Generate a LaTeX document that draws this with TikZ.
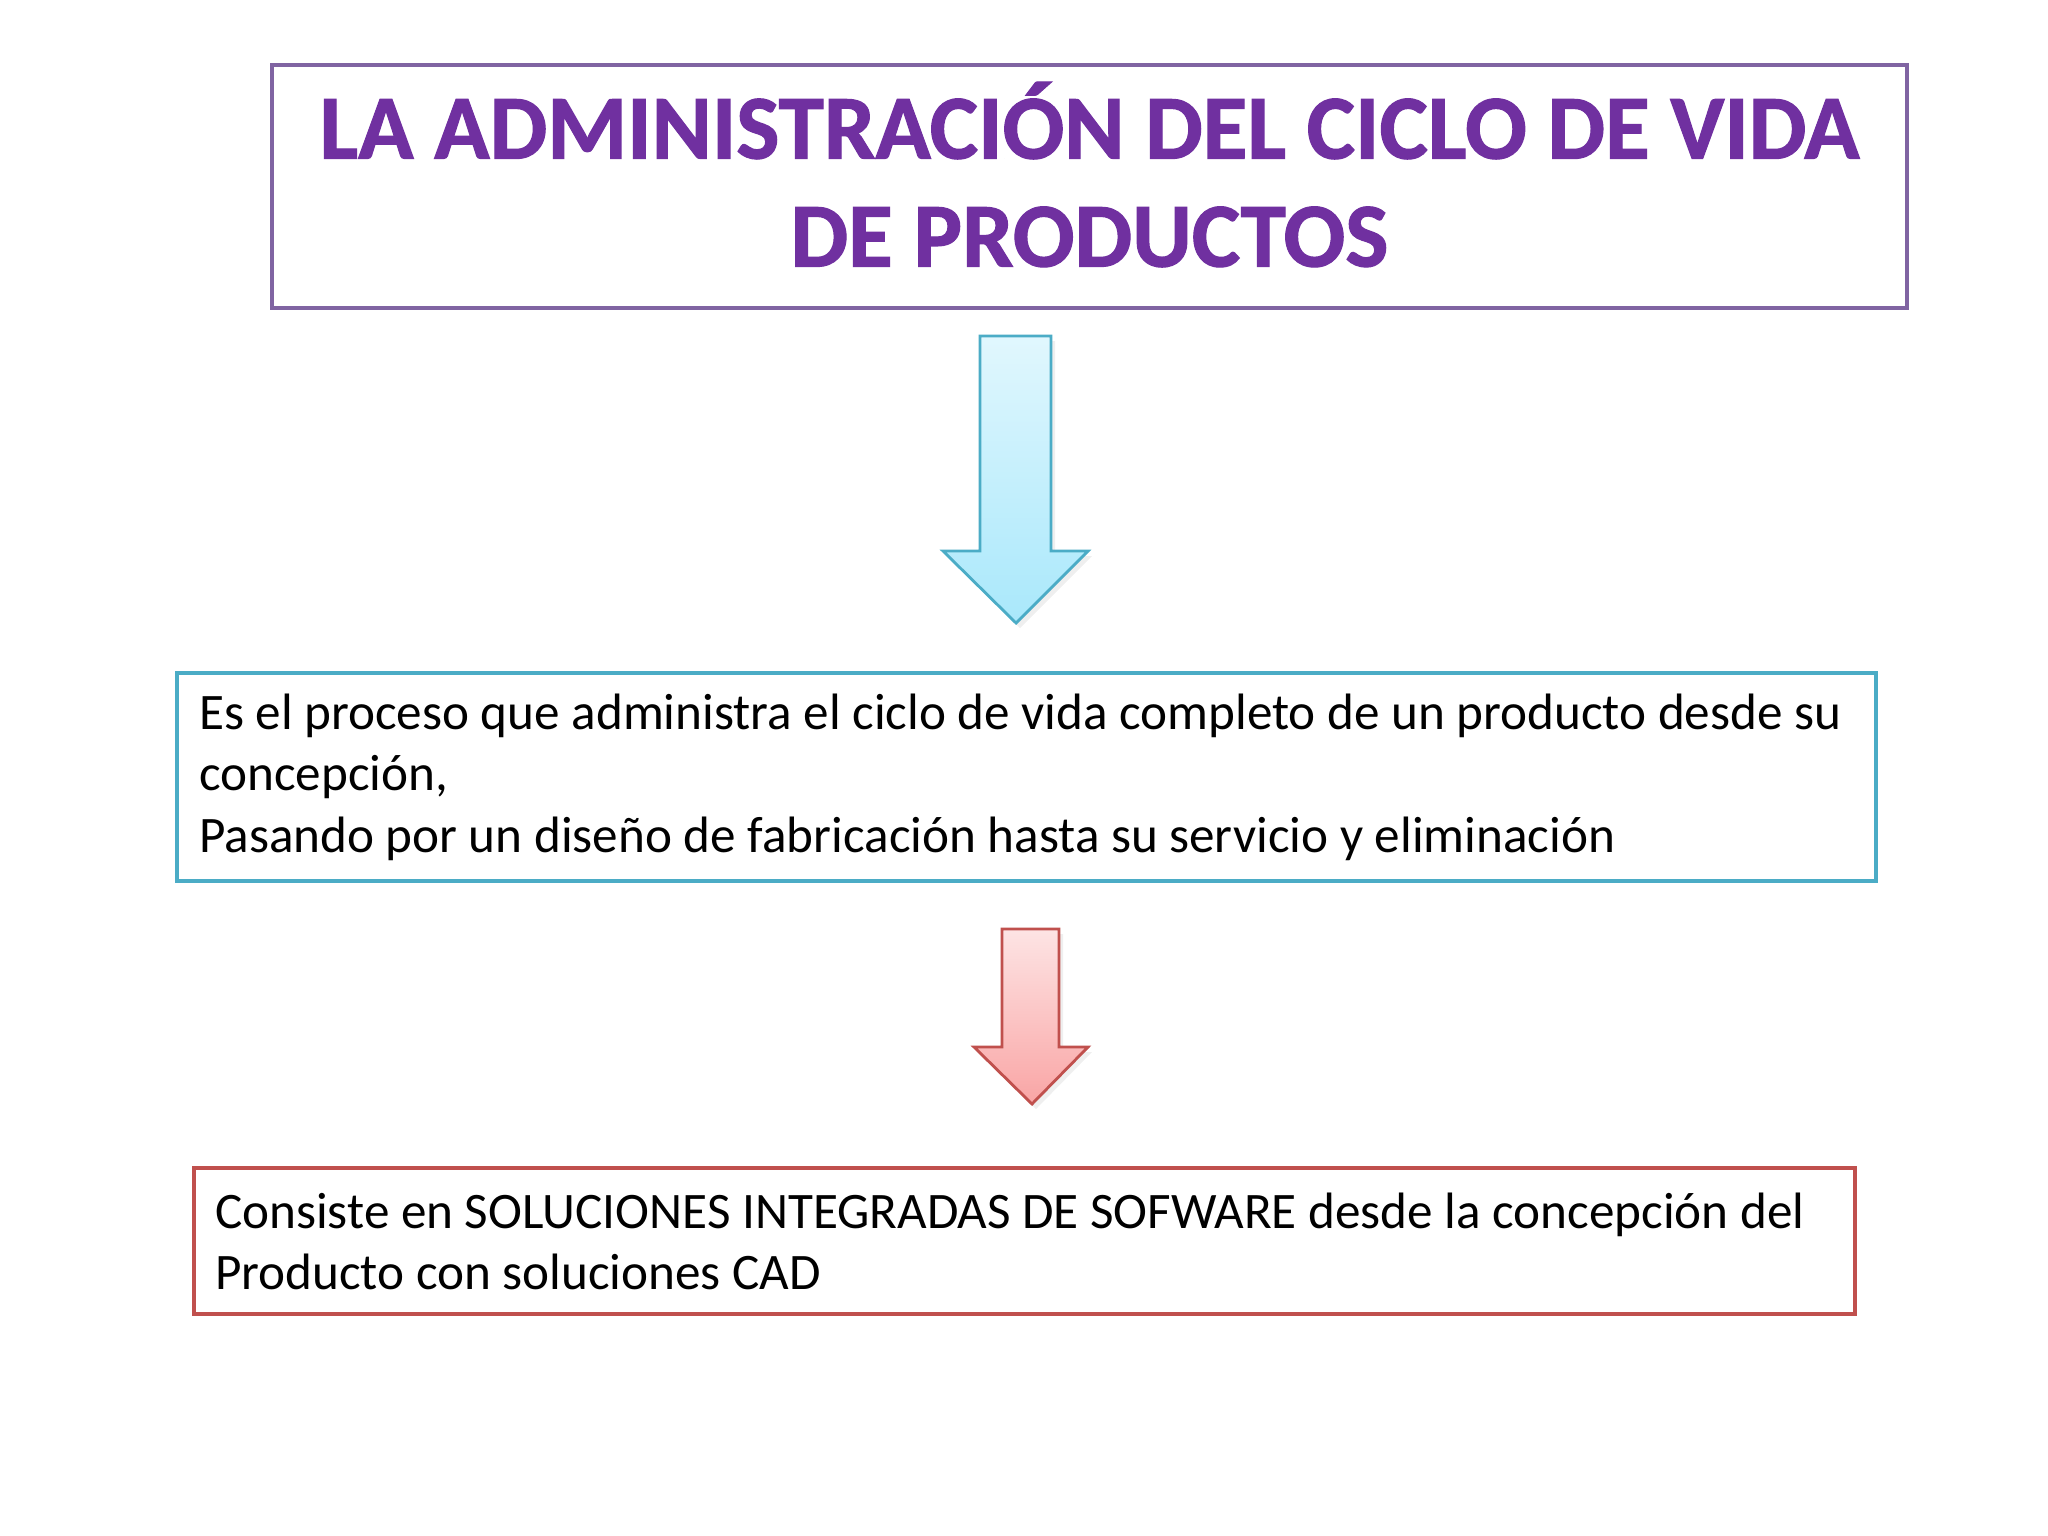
\documentclass[tikz,border=0pt]{standalone}
\usepackage{fontspec}
\setmainfont{Carlito}
\newfontfamily\titulofont{Carlito}[BoldFeatures={FakeBold=1.2}]
\usetikzlibrary{positioning,shadows}
\definecolor{morado}{RGB}{112,48,160}
\definecolor{bordemorado}{RGB}{128,100,162}
\definecolor{azul}{RGB}{75,172,198}
\definecolor{rojo}{RGB}{192,80,77}
\definecolor{celeste}{RGB}{169,232,251}
\definecolor{rosa}{RGB}{249,165,165}

\begin{document}
\begin{tikzpicture}[x=0.01cm,y=-0.01cm,
    caja/.style={draw=#1,line width=1.2pt,fill=white,anchor=north west,align=flush left},
    flecha/.style={draw=#1,line width=0.8pt,line join=miter,
                   drop shadow={opacity=0.12,shadow xshift=0.04cm,shadow yshift=-0.05cm}}]
    \useasboundingbox[fill=white] (0,0) rectangle (2048,1536);

    % titulo
    \node[caja=bordemorado,align=center,minimum width=16.34cm,minimum height=2.43cm,inner ysep=0pt,
          font=\titulofont\fontsize{26pt}{30.7pt}\selectfont\bfseries,text=morado] (titulo) at (270,63)
          {LA ADMINISTRACIÓN DEL CICLO DE VIDA\\DE PRODUCTOS\rule[-0.25cm]{0pt}{0pt}};

    % flecha azul
    \draw[flecha=azul,top color=celeste!35!white,bottom color=celeste]
        (980,336) -- (1051,336) -- (1051,551) -- (1088,551) -- (1016,623)
        -- (943,551) -- (980,551) -- cycle;

    % definicion
    \node[caja=azul,minimum width=16.98cm,minimum height=2.08cm,inner xsep=0.22cm,
          text width=16.54cm,font=\fontsize{14.55pt}{17.4pt}\selectfont] (proceso) at (175,671)
          {Es el proceso que administra el ciclo de vida completo de un producto desde su\\
           concepción,\\
           Pasando por un diseño de fabricación hasta su servicio y eliminación};

    % flecha roja
    \draw[flecha=rojo,top color=rosa!30!white,bottom color=rosa]
        (1002,929) -- (1059,929) -- (1059,1047) -- (1088,1047) -- (1032,1104)
        -- (974,1047) -- (1002,1047) -- cycle;

    % soluciones
    \node[caja=rojo,minimum width=16.6cm,minimum height=1.46cm,inner xsep=0.21cm,
          text width=16.18cm,font=\fontsize{14.55pt}{17.4pt}\selectfont] (cad) at (192,1166)
          {Consiste en SOLUCIONES INTEGRADAS DE SOFWARE desde la concepción del\\
           Producto con soluciones CAD};
\end{tikzpicture}
\end{document}
